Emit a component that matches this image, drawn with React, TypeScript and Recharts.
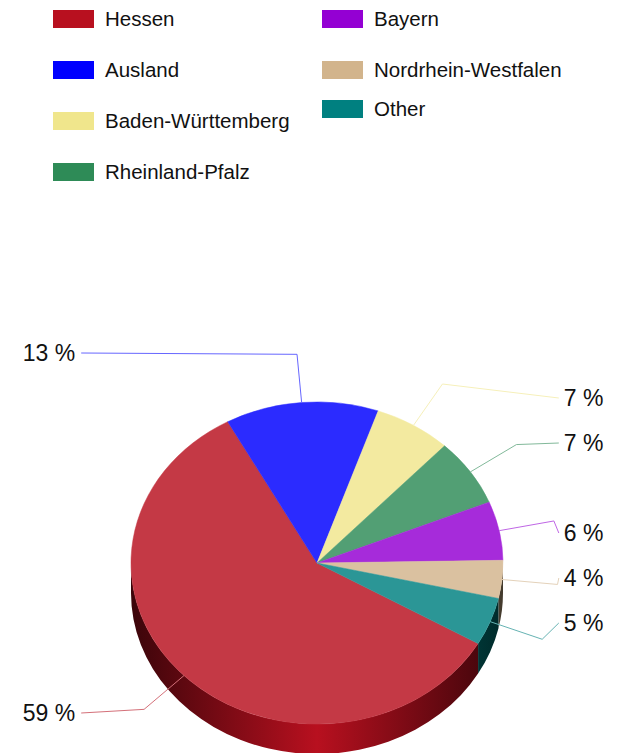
import { PieChart, Pie, Cell, Legend } from "recharts";

document.body.style.margin = "0";

const regions = [
  "Hessen",
  "Ausland",
  "Baden-Württemberg",
  "Rheinland-Pfalz",
  "Bayern",
  "Nordrhein-Westfalen",
  "Other",
];
const shares = [58.7, 13.3, 6.7, 6.8, 5.9, 3.8, 4.8];
const colors = ["#B8101F", "#0000FF", "#F0E68C", "#2E8B57", "#9400D3", "#D2B48C", "#008080"];

const data = regions.map((name, i) => ({ name, value: shares[i] }));

const FONT = "'Liberation Sans', Arial, Helvetica, sans-serif";
const TILT = 0.866; // vertical squash of the pie face
const DEPTH = 30; // height of the pie wall

const toRgb = (hex: string) => {
  const n = parseInt(hex.slice(1), 16);
  return [(n >> 16) & 255, (n >> 8) & 255, n & 255];
};
const mix = (hex: string, target: number, t: number) => {
  const [r, g, b] = toRgb(hex).map((c) => Math.round(c + (target - c) * t));
  return `rgb(${r},${g},${b})`;
};

const Slice3D = (props: any) => {
  const { cx, cy, outerRadius, startAngle, endAngle, fill, index } = props;
  const rx = outerRadius;
  const ry = outerRadius * TILT;
  const pt = (a: number, dy = 0) => {
    const r = (a * Math.PI) / 180;
    return `${cx + rx * Math.cos(r)},${cy - ry * Math.sin(r) + dy}`;
  };
  const lo = Math.min(startAngle, endAngle);
  const hi = Math.max(startAngle, endAngle);
  const large = hi - lo > 180 ? 1 : 0;
  const sweep = endAngle < startAngle ? 1 : 0;
  const top = `M${cx},${cy} L${pt(startAngle)} A${rx},${ry} 0 ${large} ${sweep} ${pt(endAngle)} Z`;

  // only the part of the rim on the front (lower) half gets a wall
  const walls: string[] = [];
  for (const k of [-360, 0, 360]) {
    const a = Math.max(lo, 180 + k);
    const b = Math.min(hi, 360 + k);
    if (b > a) {
      walls.push(
        `M${pt(a)} A${rx},${ry} 0 0 0 ${pt(b)} L${pt(b, DEPTH)} A${rx},${ry} 0 0 1 ${pt(a, DEPTH)} Z`
      );
    }
  }
  const gid = `wall-${index ?? String(fill).replace(/\W/g, "")}`;

  return (
    <g>
      <defs>
        <linearGradient id={gid} gradientUnits="userSpaceOnUse" x1={cx - rx} y1={0} x2={cx + rx} y2={0}>
          <stop offset="0" stopColor={mix(fill, 0, 0.68)} />
          <stop offset="0.5" stopColor={fill} />
          <stop offset="1" stopColor={mix(fill, 0, 0.68)} />
        </linearGradient>
      </defs>
      {walls.map((d, i) => (
        <path key={i} d={d} fill={`url(#${gid})`} stroke="none" />
      ))}
      <path d={top} fill={mix(fill, 255, 0.17)} stroke={mix(fill, 255, 0.17)} strokeWidth={0.5} />
    </g>
  );
};

const renderLabel = (props: any) => {
  const { cx, cy, midAngle, outerRadius, percent, fill } = props;
  const rx = outerRadius;
  const ry = outerRadius * TILT;
  const r = (midAngle * Math.PI) / 180;
  const cos = Math.cos(r);
  const sin = Math.sin(r);
  const sx = cx + rx * cos;
  const sy = cy - ry * sin;
  const ex = cx + rx * 1.3 * cos;
  const ey = cy - ry * 1.3 * sin;
  // labels sit on a 45px grid
  const base = cy - 210;
  const ly = base + Math.round((ey - base) / 45) * 45;
  const right = cos >= 0;
  const lx = right ? cx + rx * 1.3 : cx - rx * 1.3 + 6;
  return (
    <g>
      <polyline
        points={`${sx},${sy} ${ex},${ey} ${lx},${ly}`}
        fill="none"
        stroke={mix(fill, 255, 0.4)}
        strokeWidth={1}
      />
      <text
        x={right ? lx + 5 : lx - 6}
        y={ly}
        textAnchor={right ? "start" : "end"}
        dominantBaseline="central"
        fontFamily={FONT}
        fontSize={23}
        fill="#111"
      >
        {`${Math.round(percent * 100)} %`}
      </text>
    </g>
  );
};

const leftRows = [19, 70, 121, 172];
const rightRows = [19, 70, 109];

// legend keeps the data order, four entries left, the rest right
const renderLegend = () => (
  <div style={{ position: "relative", width: 625, height: 190 }}>
    {regions.map((name, i) => {
      const left = i < 4;
      const y = left ? leftRows[i] : rightRows[i - 4];
      return (
        <div
          key={name}
          style={{
            position: "absolute",
            left: left ? 53 : 322,
            top: y - 9,
            height: 18,
            display: "flex",
            alignItems: "center",
            whiteSpace: "nowrap",
          }}
        >
          <span style={{ display: "inline-block", width: 41, height: 18, background: colors[i] }} />
          <span style={{ marginLeft: 11, fontFamily: FONT, fontSize: 20.5, color: "#111", lineHeight: "18px" }}>
            {name}
          </span>
        </div>
      );
    })}
  </div>
);

export default function App() {
  return (
    <div style={{ width: 625, height: 753, background: "#fff" }}>
      <PieChart width={625} height={753} margin={{ top: 0, right: 0, bottom: 0, left: 0 }}>
        <Legend
          layout="horizontal"
          verticalAlign="middle"
          align="center"
          content={renderLegend}
          wrapperStyle={{ top: 0, left: 0, width: 625, height: 190 }}
        />
        <Pie
          data={data}
          dataKey="value"
          nameKey="name"
          cx={317}
          cy={563}
          outerRadius={186}
          startAngle={330}
          endAngle={-30}
          stroke="none"
          shape={Slice3D}
          inactiveShape={Slice3D}
          activeShape={Slice3D}
          label={renderLabel}
          labelLine={false}
          isAnimationActive={false}
        >
          {data.map((d, i) => (
            <Cell key={d.name} fill={colors[i]} />
          ))}
        </Pie>
      </PieChart>
    </div>
  );
}
